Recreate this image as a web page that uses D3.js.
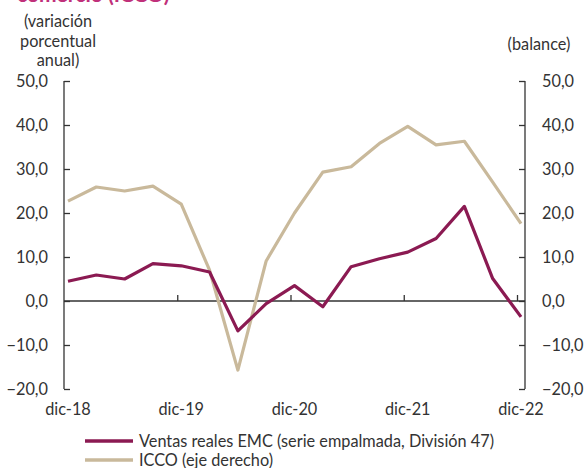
<!DOCTYPE html>
<html lang="es">
<head>
<meta charset="utf-8">
<title>Ventas reales EMC e ICCO</title>
<script src="https://cdn.jsdelivr.net/npm/d3@7"></script>
<style>
  body { margin: 0; background: #fff; }
  svg { font-family: Lato, "Open Sans", sans-serif; }
</style>
</head>
<body>
<svg id="chart" width="584" height="468"></svg>
<script>
// quarterly points, dic-18 .. dic-22
const periods = ["dic-18","mar-19","jun-19","sep-19","dic-19","mar-20","jun-20","sep-20","dic-20",
                 "mar-21","jun-21","sep-21","dic-21","mar-22","jun-22","sep-22","dic-22"];
const ventas = [4.5, 5.9, 5.0, 8.5, 8.0, 6.6, -6.8, -0.6, 3.5, -1.3, 7.8, 9.6, 11.1, 14.2, 21.5, 5.1, -3.6];
const icco   = [22.7, 25.9, 25.0, 26.1, 22.0, 7.0, -15.7, 9.1, 20.0, 29.3, 30.5, 35.8, 39.7, 35.5, 36.3, 27.0, 17.6];
const tickLabels = ["dic-18","dic-19","dic-20","dic-21","dic-22"];
const yTicks = [-20, -10, 0, 10, 20, 30, 40, 50];
const legendNames = ["Ventas reales EMC (serie empalmada, División 47)", "ICCO (eje derecho)"];

const purple = "#8b1a52", tan = "#c9b99b", ink = "#333";
const fs = 16.3;
const svg = d3.select("#chart");

const x = d3.scalePoint().domain(periods).range([68, 521]);
const yL = d3.scaleLinear().domain([-20, 50]).range([389, 81]);
const yR = d3.scaleLinear().domain([-20, 50]).range([389, 81]);
const fmt = d => d3.format(".1f")(d).replace(".", ",");

// title, mostly outside the top edge
svg.append("text").attr("x", 17).attr("y", 2)
  .attr("fill", "#c0307a").attr("font-weight", "bold").attr("font-size", 21)
  .text("comercio (ICCO)");

// axis captions
const cap = svg.append("text").attr("text-anchor", "middle").attr("font-size", fs).attr("fill", ink);
["(variación", "porcentual", "anual)"].forEach((t, i) =>
  cap.append("tspan").attr("x", 58).attr("y", 27 + i * 19.5).text(t));
svg.append("text").attr("x", 539).attr("y", 50).attr("text-anchor", "middle")
  .attr("font-size", fs).attr("fill", ink).text("(balance)");

// side axes, ticks pointing inward
const gL = svg.append("g").attr("transform", "translate(64,0)")
  .call(d3.axisRight(yL).tickValues(yTicks).tickSize(6).tickFormat(""));
const gR = svg.append("g").attr("transform", "translate(525,0)")
  .call(d3.axisLeft(yR).tickValues(yTicks).tickSize(6).tickFormat(""));
[gL, gR].forEach(g => {
  g.select(".domain").attr("d", `M0,${yL(50)}V${yL(-20)}`).attr("stroke", ink).attr("stroke-width", 1.3);
  g.selectAll(".tick line").attr("stroke", ink).attr("stroke-width", 1.3);
});

svg.append("g").selectAll("text").data(yTicks).join("text")
  .attr("x", 48).attr("y", d => yL(d) + 5.5).attr("text-anchor", "end")
  .attr("font-size", fs).attr("fill", ink).text(fmt);
svg.append("g").selectAll("text").data(yTicks).join("text")
  .attr("x", 542).attr("y", d => yR(d) + 5.5).attr("text-anchor", "start")
  .attr("font-size", fs).attr("fill", ink).text(fmt);

// zero line with year ticks
const xAxis = d3.axisTop(x).tickValues(tickLabels.slice(1)).tickSize(6).tickFormat("");
const gX = svg.append("g").attr("transform", `translate(-4,${yL(0)})`).call(xAxis);
gX.select(".domain").remove();
gX.selectAll(".tick line").attr("stroke", ink).attr("stroke-width", 1.3);
svg.append("line").attr("x1", 64).attr("x2", 525).attr("y1", yL(0)).attr("y2", yL(0))
  .attr("stroke", ink).attr("stroke-width", 1.3);

svg.append("g").selectAll("text").data(tickLabels).join("text")
  .attr("x", d => x(d)).attr("y", 415).attr("text-anchor", "middle")
  .attr("font-size", fs).attr("fill", ink).text(d => d);

// series
const lineL = d3.line().x((d, i) => x(periods[i])).y(d => yL(d));
const lineR = d3.line().x((d, i) => x(periods[i])).y(d => yR(d));
svg.append("path").attr("d", lineR(icco)).attr("fill", "none")
  .attr("stroke", tan).attr("stroke-width", 3.2).attr("stroke-linejoin", "round");
svg.append("path").attr("d", lineL(ventas)).attr("fill", "none")
  .attr("stroke", purple).attr("stroke-width", 3.2).attr("stroke-linejoin", "round");

// legend
const lg = svg.append("g").selectAll("g").data(legendNames).join("g")
  .attr("transform", (d, i) => `translate(85,${441 + i * 19})`);
lg.append("line").attr("x1", 0).attr("x2", 48)
  .attr("stroke", (d, i) => i === 0 ? purple : tan).attr("stroke-width", 3.5);
lg.append("text").attr("x", 54).attr("y", 5.5).attr("font-size", fs).attr("fill", ink).text(d => d);
</script>
</body>
</html>
